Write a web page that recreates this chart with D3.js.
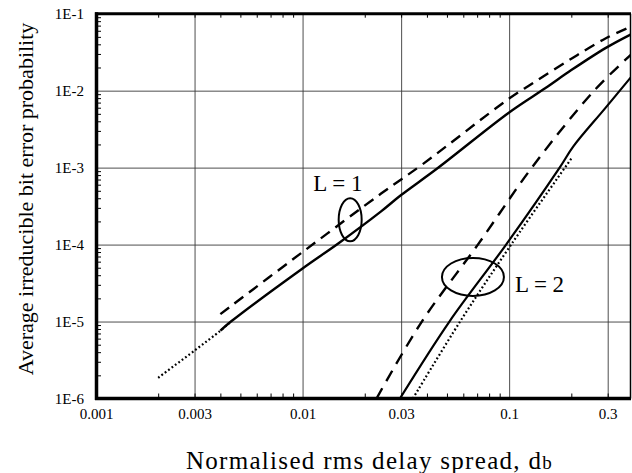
<!DOCTYPE html>
<html><head><meta charset="utf-8">
<script src="https://cdn.jsdelivr.net/npm/d3@7"></script>
<style>body{margin:0;background:#fff} svg text{font-family:"Liberation Serif","Times New Roman",Times,serif}</style>
</head><body>
<svg id="chart" width="632" height="473"></svg>
<script>
// ---- data ----
const xTicks = [0.001, 0.003, 0.01, 0.03, 0.1, 0.3];
const xTickLabels = ["0.001", "0.003", "0.01", "0.03", "0.1", "0.3"];
const yTicks = [1e-1, 1e-2, 1e-3, 1e-4, 1e-5, 1e-6];
const yTickLabels = ["1E-1", "1E-2", "1E-3", "1E-4", "1E-5", "1E-6"];

// L = 1
const l1SolidX  = [0.0040, 0.0045, 0.010, 0.015, 0.024, 0.030, 0.045, 0.10, 0.15, 0.20, 0.294, 0.389];
const l1SolidY  = [7.6e-6, 1.0e-5, 4.9e-5, 1.05e-4, 2.7e-4, 4.4e-4, 9.8e-4, 5.2e-3, 1.08e-2, 1.85e-2, 3.6e-2, 5.4e-2];
const l1DashX   = [0.0040, 0.010, 0.024, 0.038, 0.10, 0.13, 0.20, 0.294, 0.389];
const l1DashY   = [1.25e-5, 8.0e-5, 4.6e-4, 1.1e-3, 7.9e-3, 1.25e-2, 2.6e-2, 4.8e-2, 6.8e-2];
const l1DotX    = [0.0020, 0.0030, 0.0040, 0.0045];
const l1DotY    = [1.86e-6, 4.2e-6, 7.6e-6, 1.0e-5];

// L = 2
const l2SolidX  = [0.0296, 0.0514, 0.0967, 0.1756, 0.205, 0.29, 0.389];
const l2SolidY  = [1e-6, 1e-5, 1e-4, 1e-3, 1.9e-3, 5.8e-3, 1.5e-2];
const l2DashX   = [0.0228, 0.0378, 0.0706, 0.1288, 0.258, 0.389];
const l2DashY   = [1e-6, 1e-5, 1e-4, 1e-3, 1e-2, 2.94e-2];
const l2DotX    = [0.0342, 0.0579, 0.1023, 0.2012];
const l2DotY    = [1e-6, 1e-5, 1e-4, 1.34e-3];

// annotations
const ellipseCX = [0.017, 0.0668];
const ellipseCY = [2.1e-4, 3.8e-5];
const labelText = ["L = 1", "L = 2"];
const labelX = [0.01127, 0.1067];
const labelY = [4.9e-4, 2.45e-5];

// ---- drawing ----
const svg = d3.select("#chart");
const pL = 96, pR = 631, pT = 13.7, pB = 398.5;
const x = d3.scaleLog().domain([0.001, 0.389]).range([pL, pR]);
const y = d3.scaleLog().domain([1e-6, 1e-1]).range([pB, pT]);
const font = "Liberation Serif, Times New Roman, serif";

svg.append("defs").append("clipPath").attr("id", "plot")
  .append("rect").attr("x", pL).attr("y", pT).attr("width", pR - pL).attr("height", pB - pT);

function clean(g) { g.select(".domain").remove(); g.attr("font-family", null).attr("font-size", null); }

// gridlines
const gx = d3.axisBottom(x).tickValues(xTicks.slice(1)).tickSize(-(pB - pT)).tickFormat("");
svg.append("g").attr("transform", `translate(0,${pB})`).call(gx).call(clean)
  .call(g => g.selectAll("line").attr("stroke", "#3a3a3a").attr("stroke-width", 0.9));
const gy = d3.axisLeft(y).tickValues(yTicks.slice(1, 5)).tickSize(-(pR - pL)).tickFormat("");
svg.append("g").attr("transform", `translate(${pL},0)`).call(gy).call(clean)
  .call(g => g.selectAll("line").attr("stroke", "#3a3a3a").attr("stroke-width", 0.9));

// minor ticks
const minorX = [], minorY = [];
for (let d = 1e-3; d < 1; d *= 10) for (let k = 2; k <= 9; k++) { const v = d * k; if (v < 0.389) minorX.push(v); }
for (let d = 1e-6; d < 1e-1; d *= 10) for (let k = 2; k <= 9; k++) minorY.push(d * k);
svg.append("g").attr("transform", `translate(0,${pB})`)
  .call(d3.axisTop(x).tickValues(minorX).tickSize(5).tickFormat("")).call(clean);
svg.append("g").attr("transform", `translate(0,${pT})`)
  .call(d3.axisBottom(x).tickValues(minorX).tickSize(4).tickFormat("")).call(clean);
svg.append("g").attr("transform", `translate(${pL},0)`)
  .call(d3.axisRight(y).tickValues(minorY).tickSize(5).tickFormat("")).call(clean);

// tick labels
const xa = d3.axisBottom(x).tickValues(xTicks).tickSize(0).tickPadding(10)
  .tickFormat((d, i) => xTickLabels[i]);
svg.append("g").attr("transform", `translate(0,${pB})`).call(xa).call(clean)
  .call(g => g.selectAll("text").style("font-family", font).attr("font-size", 15).attr("fill", "#000"));
const ya = d3.axisLeft(y).tickValues(yTicks).tickSize(0).tickPadding(12)
  .tickFormat((d, i) => yTickLabels[i]);
svg.append("g").attr("transform", `translate(${pL},0)`).call(ya).call(clean)
  .call(g => g.selectAll("text").style("font-family", font).attr("font-size", 15).attr("fill", "#000"));

// frame
svg.append("line").attr("x1", pL - 1).attr("x2", pR).attr("y1", pT).attr("y2", pT).attr("stroke", "#000").attr("stroke-width", 3);
svg.append("line").attr("x1", pL + 0.5).attr("x2", pL + 0.5).attr("y1", pT - 1.5).attr("y2", pB + 1.5).attr("stroke", "#000").attr("stroke-width", 3.5);
svg.append("line").attr("x1", pL - 1).attr("x2", pR).attr("y1", pB).attr("y2", pB).attr("stroke", "#000").attr("stroke-width", 3.5);
svg.append("line").attr("x1", pR - 0.5).attr("x2", pR - 0.5).attr("y1", pT).attr("y2", pB).attr("stroke", "#000").attr("stroke-width", 1.5);

// curves
const line = d3.line().x(d => x(d[0])).y(d => y(d[1])).curve(d3.curveCatmullRom.alpha(0.5));
const curves = svg.append("g").attr("clip-path", "url(#plot)");
function draw(xs, ys, dash, w) {
  curves.append("path").datum(xs.map((v, i) => [v, ys[i]]))
    .attr("d", line).attr("fill", "none").attr("stroke", "#000")
    .attr("stroke-width", w).attr("stroke-dasharray", dash);
}
draw(l1DotX, l1DotY, "1.8,2.4", 2.2);
draw(l1SolidX, l1SolidY, null, 2.4);
draw(l1DashX, l1DashY, "11,7", 2.4);
draw(l2DotX, l2DotY, "1.8,2.4", 2.2);
draw(l2SolidX, l2SolidY, null, 2.2);
draw(l2DashX, l2DashY, "12,8", 2.4);

// ellipses
const rx = [11.5, 31], ry = [21.5, 19];
ellipseCX.forEach((cx, i) => {
  svg.append("ellipse").attr("cx", x(cx)).attr("cy", y(ellipseCY[i]))
    .attr("rx", rx[i]).attr("ry", ry[i]).attr("fill", "none").attr("stroke", "#000").attr("stroke-width", 2);
});
labelText.forEach((t, i) => {
  svg.append("text").attr("x", x(labelX[i])).attr("y", y(labelY[i]))
    .style("font-family", font).attr("font-size", 23).text(t);
});

// axis titles
const xt = svg.append("text").attr("x", 369.5).attr("y", 469).attr("text-anchor", "middle")
  .style("font-family", font).attr("font-size", 25).attr("letter-spacing", 1.3);
xt.append("tspan").text("Normalised rms delay spread, d");
xt.append("tspan").attr("font-size", 19).text("b");
svg.append("text").attr("transform", "translate(33,199) rotate(-90)").attr("text-anchor", "middle")
  .style("font-family", font).attr("font-size", 22).text("Average irreducible bit error probability");
</script>
</body></html>
